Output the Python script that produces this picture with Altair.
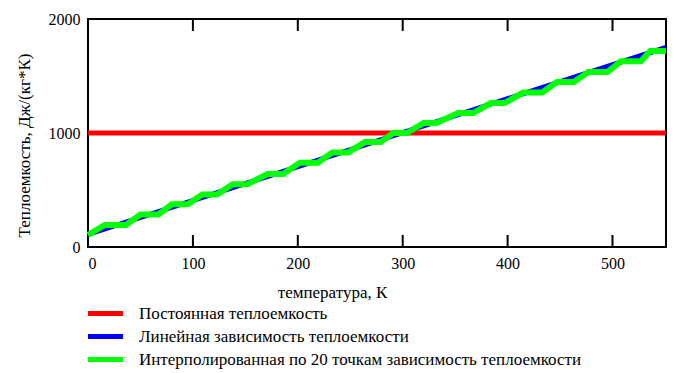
import altair as alt
import pandas as pd

# Series names
names = ["Постоянная теплоемкость",
         "Линейная зависимость теплоемкости",
         "Интерполированная по 20 точкам зависимость теплоемкости"]
colors = ["#ff0000", "#0000ff", "#00ff00"]

# Constant heat capacity
t_const = [0, 551]
cp_const = [1000, 1000]

# Linear heat capacity
t_lin = [0, 551]
cp_lin = [110, 1750]

# Interpolated (20 points) heat capacity
t_int = [0, 16, 36, 50, 67, 80, 95, 109, 123, 138, 152, 171, 186, 202, 219,
         233, 248, 264, 279, 291, 304, 320, 332, 353, 367, 384, 397, 415, 433,
         447, 463, 477, 495, 508, 527, 536, 551]
cp_int = [105, 193, 193, 285, 285, 375, 375, 460, 460, 550, 550, 640, 640,
          740, 740, 830, 830, 920, 920, 1000, 1000, 1088, 1088, 1175, 1175,
          1263, 1263, 1355, 1355, 1447, 1447, 1535, 1535, 1630, 1630, 1720, 1720]

x_ticks = [0, 100, 200, 300, 400, 500]
y_ticks = [0, 1000, 2000]

W, H = 578, 228
FONT = "Liberation Serif"

df_c = pd.DataFrame({"T": t_const, "cp": cp_const, "s": names[0]})
df_l = pd.DataFrame({"T": t_lin, "cp": cp_lin, "s": names[1]})
df_i = pd.DataFrame({"T": t_int, "cp": cp_int, "s": names[2]})

xs = alt.Scale(domain=[0, 551], nice=False, zero=False)
ys = alt.Scale(domain=[0, 2000], nice=False)

color = alt.Color("s:N", scale=alt.Scale(domain=names, range=colors),
                  legend=alt.Legend(title=None, orient="none", legendX=9, legendY=286,
                                    symbolType="M-3.5,0H3.5", symbolSize=100,
                                    symbolStrokeWidth=5, labelFont=FONT,
                                    labelFontSize=17, labelColor="black",
                                    labelOffset=25, rowPadding=2, padding=0,
                                    labelLimit=0))

x_enc = alt.X("T:Q", scale=xs,
              axis=alt.Axis(values=x_ticks, format="d", ticks=False, domain=False,
                            grid=False, labelPadding=8, title="температура, К",
                            titleX=244, titleY=45,
                            titleBaseline="middle", titleAlign="center"))
y_enc = alt.Y("cp:Q", scale=ys,
              axis=alt.Axis(values=y_ticks, format="d", ticks=False, domain=False,
                            grid=False, labelPadding=8,
                            title="Теплоемкость, Дж/(кг*К)",
                            titleX=-64, titleY=126,
                            titleAngle=-90, titleAlign="center",
                            titleBaseline="middle"))

red = alt.Chart(df_c).mark_line(strokeWidth=5).encode(x=x_enc, y=y_enc, color=color)
blue = alt.Chart(df_l).mark_line(strokeWidth=5).encode(x="T:Q", y="cp:Q", color=color)
green = alt.Chart(df_i).mark_line(strokeWidth=6).encode(
    x="T:Q", y="cp:Q", color=color)

tick_df = pd.DataFrame({"t": x_ticks[1:]})
bottom_ticks = alt.Chart(tick_df).mark_rule(color="black", strokeWidth=2).encode(
    x="t:Q", y=alt.value(H), y2=alt.value(H - 12))
top_ticks = alt.Chart(tick_df).mark_rule(color="black", strokeWidth=2).encode(
    x="t:Q", y=alt.value(0), y2=alt.value(12))
ytick_df = pd.DataFrame({"v": [1000]})
left_ticks = alt.Chart(ytick_df).mark_rule(color="black", strokeWidth=2).encode(
    y="v:Q", x=alt.value(0), x2=alt.value(12))

chart = alt.layer(bottom_ticks, top_ticks, left_ticks, red, blue, green).properties(
    width=W, height=H,
    autosize=alt.AutoSizeParams(type="none"),
    padding={"left": 88, "top": 19, "right": 33, "bottom": 126},
).configure(background="white", font=FONT).configure_view(
    stroke="black", strokeWidth=2
).configure_axis(
    labelFont=FONT, labelFontSize=16, labelColor="black",
    titleFont=FONT, titleFontSize=17, titleFontWeight="normal", titleColor="black"
).configure_legend(labelFont=FONT)

chart.save("out.html", embed_options={"renderer": "svg", "actions": False})
